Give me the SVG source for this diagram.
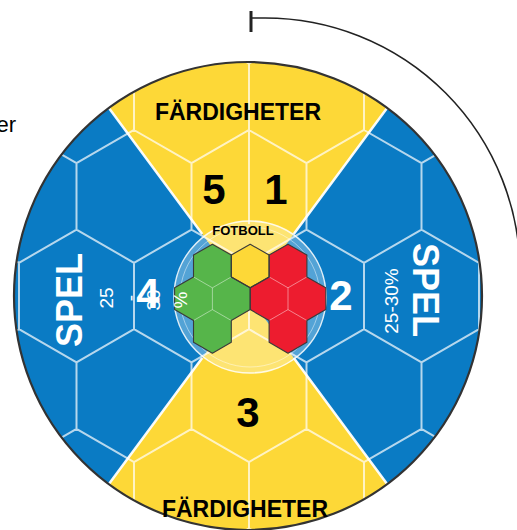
<svg xmlns="http://www.w3.org/2000/svg" width="517" height="530" viewBox="0 0 517 530">
<style>
.num{font-family:"Liberation Sans",Arial,sans-serif;font-weight:bold;font-size:42px;text-anchor:middle}
.blk{fill:#000}
.wht{fill:#fff}
.title{font-family:"Liberation Sans",Arial,sans-serif;font-weight:bold;font-size:23px;text-anchor:middle;fill:#000}
.spel{font-family:"Liberation Sans",Arial,sans-serif;font-weight:bold;font-size:36px;text-anchor:middle;fill:#fff}
.pct{font-family:"Liberation Sans",Arial,sans-serif;font-size:19px;text-anchor:middle;fill:#fff}
.grid{fill:none;stroke:#fff;stroke-opacity:0.7;stroke-width:2}
.sector{fill:none;stroke:#fff;stroke-opacity:0.95;stroke-width:2.5}
.inner{fill:none;stroke:#fff;stroke-opacity:0.45;stroke-width:1}
.outline{fill:none;stroke:#3a3a3a;stroke-width:1.1;stroke-linejoin:round}
</style>
<defs>
<clipPath id="ball"><circle cx="248" cy="296" r="234"/></clipPath>
</defs>

<g id="ball-body">
<circle cx="248" cy="296" r="234" fill="#0a7bc4"/>
<g clip-path="url(#ball)">
<polygon points="248,296 69.6,54.8 426.4,54.8" fill="#fdd837"/>
<polygon points="248,296 69.6,537.2 426.4,537.2" fill="#fdd837"/>
<path class="grid" d="M19 -69.2l57.5 33.2v66.4l-57.5 33.2l-57.5-33.2v-66.4z M134 -69.2l57.5 33.2v66.4l-57.5 33.2l-57.5-33.2v-66.4z M249 -69.2l57.5 33.2v66.4l-57.5 33.2l-57.5-33.2v-66.4z M364 -69.2l57.5 33.2v66.4l-57.5 33.2l-57.5-33.2v-66.4z M479 -69.2l57.5 33.2v66.4l-57.5 33.2l-57.5-33.2v-66.4z
M-38.5 30.4l57.5 33.2v66.4l-57.5 33.2l-57.5-33.2v-66.4z M76.5 30.4l57.5 33.2v66.4l-57.5 33.2l-57.5-33.2v-66.4z M191.5 30.4l57.5 33.2v66.4l-57.5 33.2l-57.5-33.2v-66.4z M306.5 30.4l57.5 33.2v66.4l-57.5 33.2l-57.5-33.2v-66.4z M421.5 30.4l57.5 33.2v66.4l-57.5 33.2l-57.5-33.2v-66.4z M536.5 30.4l57.5 33.2v66.4l-57.5 33.2l-57.5-33.2v-66.4z
M19 130l57.5 33.2v66.4l-57.5 33.2l-57.5-33.2v-66.4z M134 130l57.5 33.2v66.4l-57.5 33.2l-57.5-33.2v-66.4z M249 130l57.5 33.2v66.4l-57.5 33.2l-57.5-33.2v-66.4z M364 130l57.5 33.2v66.4l-57.5 33.2l-57.5-33.2v-66.4z M479 130l57.5 33.2v66.4l-57.5 33.2l-57.5-33.2v-66.4z
M-38.5 229.6l57.5 33.2v66.4l-57.5 33.2l-57.5-33.2v-66.4z M76.5 229.6l57.5 33.2v66.4l-57.5 33.2l-57.5-33.2v-66.4z M191.5 229.6l57.5 33.2v66.4l-57.5 33.2l-57.5-33.2v-66.4z M306.5 229.6l57.5 33.2v66.4l-57.5 33.2l-57.5-33.2v-66.4z M421.5 229.6l57.5 33.2v66.4l-57.5 33.2l-57.5-33.2v-66.4z M536.5 229.6l57.5 33.2v66.4l-57.5 33.2l-57.5-33.2v-66.4z
M19 329.2l57.5 33.2v66.4l-57.5 33.2l-57.5-33.2v-66.4z M134 329.2l57.5 33.2v66.4l-57.5 33.2l-57.5-33.2v-66.4z M249 329.2l57.5 33.2v66.4l-57.5 33.2l-57.5-33.2v-66.4z M364 329.2l57.5 33.2v66.4l-57.5 33.2l-57.5-33.2v-66.4z M479 329.2l57.5 33.2v66.4l-57.5 33.2l-57.5-33.2v-66.4z
M-38.5 428.8l57.5 33.2v66.4l-57.5 33.2l-57.5-33.2v-66.4z M76.5 428.8l57.5 33.2v66.4l-57.5 33.2l-57.5-33.2v-66.4z M191.5 428.8l57.5 33.2v66.4l-57.5 33.2l-57.5-33.2v-66.4z M306.5 428.8l57.5 33.2v66.4l-57.5 33.2l-57.5-33.2v-66.4z M421.5 428.8l57.5 33.2v66.4l-57.5 33.2l-57.5-33.2v-66.4z M536.5 428.8l57.5 33.2v66.4l-57.5 33.2l-57.5-33.2v-66.4z
M19 528.4l57.5 33.2v66.4l-57.5 33.2l-57.5-33.2v-66.4z M134 528.4l57.5 33.2v66.4l-57.5 33.2l-57.5-33.2v-66.4z M249 528.4l57.5 33.2v66.4l-57.5 33.2l-57.5-33.2v-66.4z M364 528.4l57.5 33.2v66.4l-57.5 33.2l-57.5-33.2v-66.4z M479 528.4l57.5 33.2v66.4l-57.5 33.2l-57.5-33.2v-66.4z
M249 130V224"/>
<path class="sector" d="M105.2 103.1L202.2 234.1M390.8 103.1L293.8 234.1M105.2 488.9L202.2 357.9M390.8 488.9L293.8 357.9"/>
</g>
<circle cx="248" cy="296" r="234" fill="none" stroke="#333" stroke-width="2.2"/>
</g>

<g id="lens">
<circle cx="250" cy="297" r="76" fill="#fff" fill-opacity="0.3" stroke="#fff" stroke-opacity="0.85" stroke-width="1.6"/>
<circle cx="250" cy="297" r="70" class="inner"/>
</g>

<g id="fotboll-hexes">
<polygon points="212.4,244.2 231.3,255.1 231.3,276.9 250.2,287.8 250.2,309.6 231.3,320.5 231.3,342.3 212.4,353.2 193.5,342.3 193.5,320.5 174.6,309.6 174.6,287.8 193.5,276.9 193.5,255.1" fill="#56b54a"/>
<polygon points="250.2,244.2 269.1,255.1 269.1,276.9 250.2,287.8 231.3,276.9 231.3,255.1" fill="#fdd837"/>
<polygon points="288,244.2 306.9,255.1 306.9,276.9 325.8,287.8 325.8,309.6 306.9,320.5 306.9,342.3 288,353.2 269.1,342.3 269.1,320.5 250.2,309.6 250.2,287.8 269.1,276.9 269.1,255.1" fill="#ed1c2f"/>
<path class="inner" stroke-opacity="0.5" d="M193.5 276.9L212.4 287.8V309.6L193.5 320.5M212.4 287.8L231.3 276.9M212.4 309.6L231.3 320.5M269.1 276.9L288 287.8V309.6L269.1 320.5M288 287.8L306.9 276.9M288 309.6L306.9 320.5"/>
<polygon class="outline" points="212.4,244.2 231.3,255.1 231.3,276.9 250.2,287.8 250.2,309.6 231.3,320.5 231.3,342.3 212.4,353.2 193.5,342.3 193.5,320.5 174.6,309.6 174.6,287.8 193.5,276.9 193.5,255.1"/>
<polygon class="outline" points="250.2,244.2 269.1,255.1 269.1,276.9 250.2,287.8 231.3,276.9 231.3,255.1"/>
<polygon class="outline" points="288,244.2 306.9,255.1 306.9,276.9 325.8,287.8 325.8,309.6 306.9,320.5 306.9,342.3 288,353.2 269.1,342.3 269.1,320.5 250.2,309.6 250.2,287.8 269.1,276.9 269.1,255.1"/>
</g>

<g id="labels">
<text class="title" x="238" y="120">FÄRDIGHETER</text>
<text class="title" x="245" y="517">FÄRDIGHETER</text>
<text x="243" y="235" font-family="Liberation Sans, Arial, sans-serif" font-weight="bold" font-size="13" text-anchor="middle" fill="#000">FOTBOLL</text>
<text class="num blk" x="214" y="204">5</text>
<text class="num blk" x="276" y="204">1</text>
<text class="num blk" x="248" y="427">3</text>
<text class="spel" transform="translate(82 300) rotate(-90)">SPEL</text>
<text class="spel" transform="translate(413 290) rotate(90)">SPEL</text>
<text class="pct" transform="translate(398 301) rotate(-90)">25-30%</text>
<text class="pct" transform="translate(113 298) rotate(-90)">25</text>
<text class="pct" transform="translate(137 298) rotate(-90)">-</text>
<text class="pct" transform="translate(160 300) rotate(-90)">30</text>
<text class="pct" transform="translate(187 300) rotate(-90)">%</text>
<text class="num wht" x="148" y="308">4</text>
<text class="num wht" x="341" y="310">2</text>
<text x="16" y="132" font-family="Liberation Sans, Arial, sans-serif" font-size="22" text-anchor="end" fill="#000">er</text>
</g>

<g id="connectors">
<path d="M251 11V32" stroke="#222" stroke-width="3" fill="none"/>
<path d="M251 18H265A255 255 0 0 1 520 274" stroke="#222" stroke-width="1.6" fill="none"/>
</g>
</svg>
